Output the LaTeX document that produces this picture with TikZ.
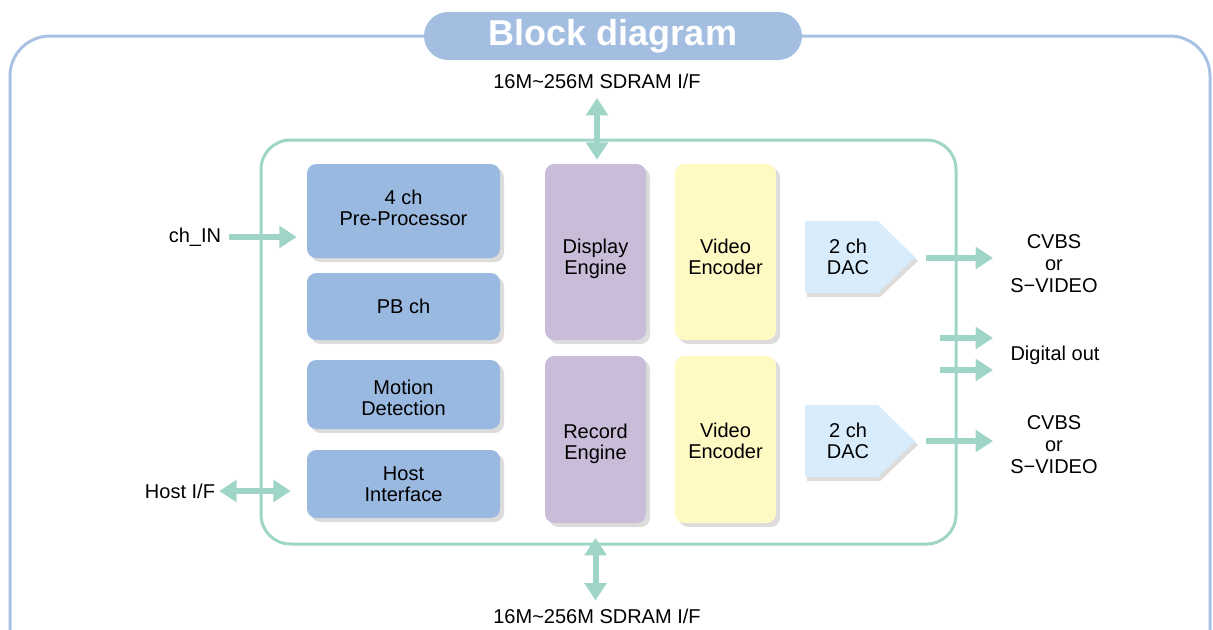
\documentclass[tikz,border=0pt]{standalone}
\usepackage{fontspec}
\setmainfont{Liberation Sans}
\usetikzlibrary{arrows.meta,shadows,calc}
\definecolor{frameblue}{HTML}{A9C1E3}
\definecolor{titleblue}{HTML}{A4BEE2}
\definecolor{teal}{HTML}{9ED5C7}
\definecolor{boxblue}{HTML}{99B9E0}
\definecolor{boxpurple}{HTML}{C9BCD9}
\definecolor{boxyellow}{HTML}{FFF9C3}
\definecolor{dacblue}{HTML}{D9ECFB}
\definecolor{shadowgray}{HTML}{DCDCDC}
\tikzset{
  lbl/.style={font=\fontsize{15}{16}\selectfont, align=center, inner sep=1pt},
  blk/.style={lbl, rounded corners=7pt, drop shadow={shadow xshift=3pt, shadow yshift=-3pt, fill=shadowgray, opacity=1}},
  bluebox/.style={blk, fill=boxblue, minimum width=144.75pt},
  purplebox/.style={blk, fill=boxpurple, minimum width=75.75pt},
  yellowbox/.style={blk, fill=boxyellow, minimum width=75.75pt},
  txt/.style 2 args={label={[lbl, yshift=#1]center:#2}},
  arr/.style={draw=teal, line width=4.5pt, -{Triangle[length=13pt,width=16pt]}},
  darr/.style={draw=teal, line width=4.5pt, {Triangle[length=13pt,width=16pt]}-{Triangle[length=13pt,width=16pt]}},
}
\begin{document}
\begin{tikzpicture}[x=0.75pt,y=-0.75pt]
\useasboundingbox (0,0) rectangle (1213,629);
\clip (0,0) rectangle (1213,629);
% outer frame
\draw[frameblue, line width=2.25pt, rounded corners=30pt] (10,700) -- (10,36) -- (1210,36) -- (1210,700);
% title
\node[fill=titleblue, rounded corners=18pt, minimum width=283.5pt, minimum height=36pt, text=white,
      font=\bfseries\fontsize{27}{28}\selectfont] (title) at (613,36) {Block diagram};
% inner frame
\draw[teal, line width=2.25pt, rounded corners=22pt] (261,140) rectangle (956,544);
% labels
\node[lbl] (sdtop) at (597,81) {16M\textasciitilde256M SDRAM I/F};
\node[lbl] (sdbot) at (597,616) {16M\textasciitilde256M SDRAM I/F};
\node[lbl] (chin) at (195,237) {ch\_IN};
\node[lbl] (hostl) at (180,491) {Host I/F};
% left boxes
\node[bluebox, minimum height=70.5pt, txt={2.6pt}{4 ch\\Pre-Processor}] (pre) at (403.5,211) {};
\node[bluebox, minimum height=50.25pt] (pb) at (403.5,306.5) {PB ch};
\node[bluebox, minimum height=51.75pt, txt={-2.6pt}{Motion\\Detection}] (motion) at (403.5,394.5) {};
\node[bluebox, minimum height=51pt, txt={0pt}{Host\\Interface}] (host) at (403.5,484) {};
% engines
\node[purplebox, minimum height=132pt, txt={-4.9pt}{Display\\Engine}] (disp) at (595.5,252) {};
\node[purplebox, minimum height=125.25pt, txt={-3.4pt}{Record\\Engine}] (rec) at (595.5,439.5) {};
\node[yellowbox, minimum height=132pt, txt={-3.4pt}{Video\\Encoder}] (venc1) at (725.5,252) {};
\node[yellowbox, minimum height=125.25pt, txt={-1.1pt}{Video\\Encoder}] (venc2) at (725.5,439.5) {};
% DACs
\fill[shadowgray] (807,225) -- (880,225) -- (918,261) -- (880,297) -- (807,297) -- cycle;
\fill[dacblue] (805,221) -- (878,221) -- (915,257) -- (878,293) -- (805,293) -- cycle;
\node[lbl] (dac1) at (848,257) {2 ch\\DAC};
\coordinate (dac1tip) at (926,258);
\coordinate (o1) at (993,258);
\fill[shadowgray] (807,409) -- (880,409) -- (918,445) -- (880,481) -- (807,481) -- cycle;
\fill[dacblue] (805,405) -- (878,405) -- (915,441) -- (878,477) -- (805,477) -- cycle;
\node[lbl] (dac2) at (848,441) {2 ch\\DAC};
\coordinate (dac2tip) at (926,441);
\coordinate (o2) at (993,441);
% outputs
\node[lbl, font=\fontsize{15}{16.5}\selectfont] (cvbs1) at (1054,264) {CVBS\\or\\S−VIDEO};
\node[lbl, font=\fontsize{15}{16.5}\selectfont] (cvbs2) at (1054,445) {CVBS\\or\\S−VIDEO};
\node[lbl] (dout) at (1055,355) {Digital out};
\coordinate (d1) at (940,338);
\coordinate (d2) at (940,370);
\coordinate (d1e) at (993,338);
\coordinate (d2e) at (993,370);
% connectors
\draw[arr, shorten <=5pt, shorten >=7.5pt] (chin.east) -- (chin.east -| pre.west);
\draw[darr, shorten <=2pt, shorten >=12pt] (hostl.east) -- (hostl.east -| host.west);
\draw[darr, shorten <=6pt, shorten >=3pt] (sdtop.south) -- (sdtop.south |- disp.north);
\draw[darr, shorten <=11pt, shorten >=5pt] (rec.south) -- (rec.south |- sdbot.north);
\draw[arr] (dac1tip) -- (o1);
\draw[arr] (dac2tip) -- (o2);
\draw[arr] (d1) -- (d1e);
\draw[arr] (d2) -- (d2e);
\end{tikzpicture}
\end{document}
